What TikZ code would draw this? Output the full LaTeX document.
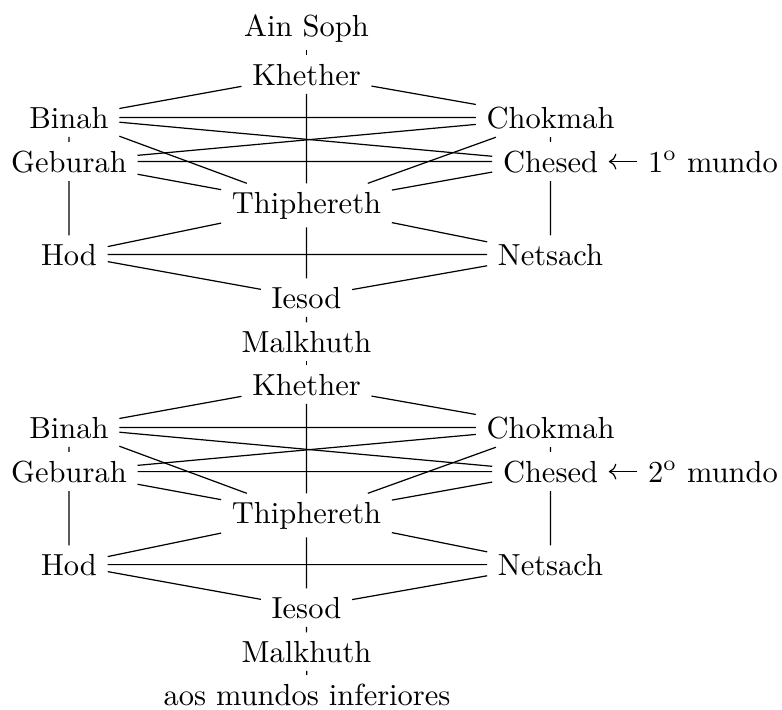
\documentclass[tikz,border=0pt]{standalone}
\usetikzlibrary{arrows.meta}
\begin{document}
\begin{tikzpicture}[x=0.328pt, y=-0.328pt, every node/.style={anchor=base, inner ysep=2.6pt}]
			\useasboundingbox (0,0) rectangle (782,709);
			\node (ainsoph) at (306.5,36) {Ain Soph};
			\foreach \w/\dy in {1/0,2/310} {
				\node (khether\w) at (306.5,{85+\dy}) {Khether};
				\node (binah\w) at (69,{128+\dy}) {Binah};
				\node (chokmah\w) at (550.5,{128+\dy}) {Chokmah};
				\node (geburah\w) at (69,{172+\dy}) {Geburah};
				\node (chesed\w) at (550.5,{172+\dy}) {Chesed};
				\node (mundo\w) at (713,{172+\dy}) {\w\textsuperscript{o} mundo};
				\node (thiphereth\w) at (306.5,{213+\dy}) {Thiphereth};
				\node (hod\w) at (69,{265+\dy}) {Hod};
				\node (netsach\w) at (550.5,{265+\dy}) {Netsach};
				\node (iesod\w) at (306.5,{308+\dy}) {Iesod};
				\node (malkhuth\w) at (306.5,{352+\dy}) {Malkhuth};
				\draw (khether\w) -- (binah\w)
					(khether\w) -- (chokmah\w)
					(khether\w) -- (thiphereth\w);
				\draw (binah\w) -- (chokmah\w)
					(binah\w) -- (chesed\w)
					(binah\w) -- (thiphereth\w)
					(binah\w) -- (geburah\w);
				\draw (chokmah\w) -- (geburah\w)
					(chokmah\w) -- (thiphereth\w)
					(chokmah\w) -- (chesed\w);
				\draw (geburah\w) -- (chesed\w)
					(geburah\w) -- (thiphereth\w)
					(geburah\w) -- (hod\w);
				\draw (chesed\w) -- (thiphereth\w)
					(chesed\w) -- (netsach\w);
				\draw (thiphereth\w) -- (hod\w)
					(thiphereth\w) -- (netsach\w)
					(thiphereth\w) -- (iesod\w);
				\draw (hod\w) -- (netsach\w)
					(hod\w) -- (iesod\w)
					(netsach\w) -- (iesod\w)
					(iesod\w) -- (malkhuth\w);
				\draw[-{Computer Modern Rightarrow}] (mundo\w) -- (chesed\w);
			}
			\node (inferiores) at (307,705) {aos mundos inferiores};
			\draw (ainsoph) -- (khether1);
			\draw (malkhuth1) -- (khether2);
			\draw (malkhuth2) -- (inferiores);
		\end{tikzpicture}
\end{document}
